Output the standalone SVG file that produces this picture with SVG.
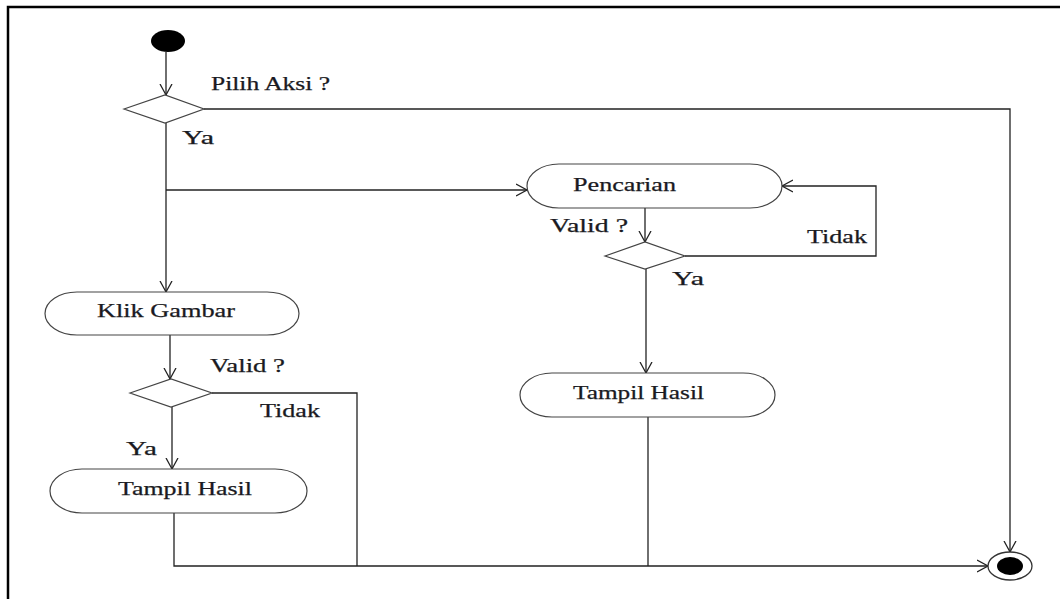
<svg xmlns="http://www.w3.org/2000/svg" width="1060" height="599" viewBox="0 0 1060 599">
<style>
.bg{fill:#fff}
.frame{fill:none;stroke:#000;stroke-width:2.5}
.pill{fill:#fff;stroke:#444;stroke-width:1.2}
.dia{fill:#fff;stroke:#444;stroke-width:1.2}
.con{fill:none;stroke:#222;stroke-width:1.3}
.t{font-family:"Liberation Serif","Times New Roman",serif;font-size:19px;fill:#1a1a22;stroke:#1a1a22;stroke-width:0.25}
</style>
<defs>
<marker id="arr" markerUnits="userSpaceOnUse" markerWidth="14" markerHeight="14" refX="11" refY="6" orient="auto" viewBox="0 0 14 12">
<path d="M0,0 L11,6 L0,12" fill="none" stroke="#222" stroke-width="1.3"/>
</marker>
</defs>
<rect class="bg" x="0" y="0" width="1060" height="599"/>
<path class="frame" d="M8,600 V7 H1061"/>

<g id="connectors">
<line class="con" x1="166" y1="52" x2="166" y2="95" marker-end="url(#arr)"/>
<polyline class="con" points="204,109 1010,109 1010,552" marker-end="url(#arr)"/>
<line class="con" x1="166" y1="123" x2="166" y2="292" marker-end="url(#arr)"/>
<line class="con" x1="166" y1="190" x2="527" y2="190" marker-end="url(#arr)"/>
<line class="con" x1="645" y1="208" x2="645" y2="242" marker-end="url(#arr)"/>
<polyline class="con" points="685,256 876,256 876,186 782,186" marker-end="url(#arr)"/>
<line class="con" x1="646" y1="269" x2="646" y2="373" marker-end="url(#arr)"/>
<line class="con" x1="648" y1="417" x2="648" y2="566"/>
<line class="con" x1="170" y1="335" x2="170" y2="379" marker-end="url(#arr)"/>
<polyline class="con" points="212,393 357,393 357,566"/>
<line class="con" x1="172" y1="407" x2="172" y2="469" marker-end="url(#arr)"/>
<polyline class="con" points="174,513 174,566 988,566" marker-end="url(#arr)"/>
</g>

<g id="start">
<ellipse cx="168" cy="41" rx="17" ry="11" fill="#000"/>
</g>

<g id="decision1">
<polygon class="dia" points="124,109 165,95 204,109 165,123"/>
<text class="t" x="211" y="90" textLength="119" lengthAdjust="spacingAndGlyphs">Pilih Aksi ?</text>
<text class="t" x="182" y="144" textLength="32" lengthAdjust="spacingAndGlyphs">Ya</text>
</g>

<g id="pencarian">
<rect class="pill" x="527" y="164" width="255" height="44" rx="32" ry="22"/>
<text class="t" x="573" y="191" textLength="103" lengthAdjust="spacingAndGlyphs">Pencarian</text>
</g>

<g id="decision2">
<polygon class="dia" points="605,256 645,242 685,256 645,269"/>
<text class="t" x="550" y="232" textLength="78" lengthAdjust="spacingAndGlyphs">Valid ?</text>
<text class="t" x="807" y="243" textLength="60" lengthAdjust="spacingAndGlyphs">Tidak</text>
<text class="t" x="672" y="285" textLength="32" lengthAdjust="spacingAndGlyphs">Ya</text>
</g>

<g id="tampil-hasil-right">
<rect class="pill" x="520" y="373" width="255" height="44" rx="32" ry="22"/>
<text class="t" x="573" y="399" textLength="131" lengthAdjust="spacingAndGlyphs">Tampil Hasil</text>
</g>

<g id="klik-gambar">
<rect class="pill" x="45" y="292" width="254" height="43" rx="32" ry="21.5"/>
<text class="t" x="97" y="317" textLength="138" lengthAdjust="spacingAndGlyphs">Klik Gambar</text>
</g>

<g id="decision3">
<polygon class="dia" points="130,393 171,379 212,393 171,407"/>
<text class="t" x="210" y="372" textLength="75" lengthAdjust="spacingAndGlyphs">Valid ?</text>
<text class="t" x="260" y="417" textLength="60" lengthAdjust="spacingAndGlyphs">Tidak</text>
<text class="t" x="126" y="455" textLength="31" lengthAdjust="spacingAndGlyphs">Ya</text>
</g>

<g id="tampil-hasil-left">
<rect class="pill" x="50" y="469" width="257" height="44" rx="32" ry="22"/>
<text class="t" x="118" y="495" textLength="134" lengthAdjust="spacingAndGlyphs">Tampil Hasil</text>
</g>

<g id="end">
<ellipse cx="1010" cy="566" rx="22" ry="14" fill="#fff" stroke="#333" stroke-width="1.3"/>
<ellipse cx="1010" cy="566" rx="13" ry="9" fill="#000"/>
</g>
</svg>
